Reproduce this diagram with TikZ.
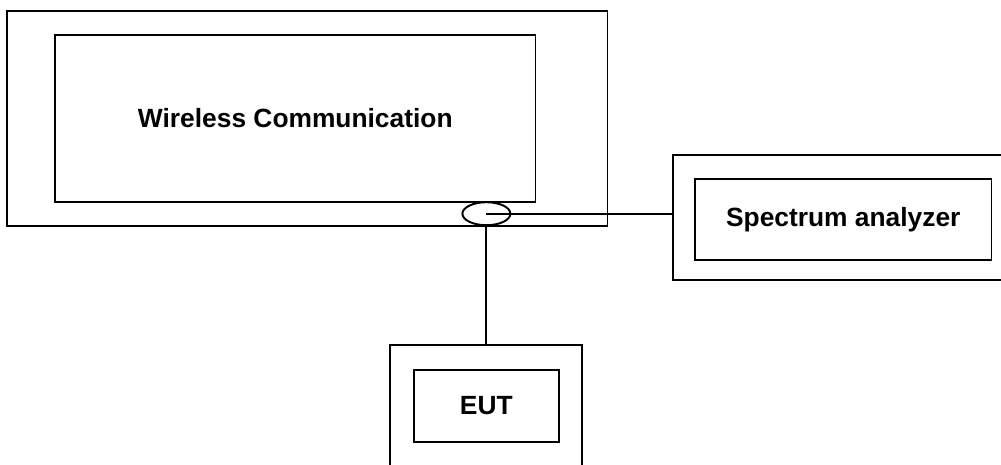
\documentclass[tikz,border=0pt]{standalone}
\usepackage{fontspec}
\setmainfont{Liberation Sans}
\usepackage{tikz}
\usetikzlibrary{calc,shapes.geometric}
\tikzset{
	box/.style={draw=black, line width=1.1pt, rectangle, inner sep=0pt, fill=white},
	lbl/.style={font=\fontsize{15}{18}\selectfont\bfseries},
	port/.style={draw=black, line width=1.1pt, ellipse, inner sep=0pt, minimum width=0.96cm, minimum height=0.46cm, fill=white},
	wire/.style={line width=1.1pt, color=black}
}

\begin{document}
\begin{tikzpicture}[x=0.02cm, y=-0.02cm]
			%%%%% START %%%%%
			
			\useasboundingbox (0, 0) rectangle (1001, 464);
			\clip (0, 0) rectangle (1001, 464);
			
			\node[box, minimum width=12.01cm, minimum height=4.29cm] (wcOuter) at (307.3, 118.4) {};
			\node[box, minimum width=9.61cm, minimum height=3.33cm, lbl] (wcInner) at (295.3, 118.3) {Wireless Communication};
			
			\node[box, minimum width=6.83cm, minimum height=2.5cm] (saOuter) at (843.3, 217.5) {};
			\node[box, minimum width=5.93cm, minimum height=1.62cm, lbl] (saInner) at (843.3, 219.5) {Spectrum analyzer};
			
			\node[box, minimum width=3.85cm, minimum height=2.42cm] (eutOuter) at (486.2, 405.9) {};
			\node[box, minimum width=2.91cm, minimum height=1.45cm, lbl] (eutInner) at (486.3, 405.9) {EUT};
			
			\node[port] (coupler) at (486.4, 213.7) {};
			
			\draw[wire] (coupler.center) -- (coupler.center -| saOuter.west);
			\draw[wire] (coupler.south) -- (coupler.south |- eutOuter.north);
			
			%%%%% END %%%%%
\end{tikzpicture}
\end{document}
